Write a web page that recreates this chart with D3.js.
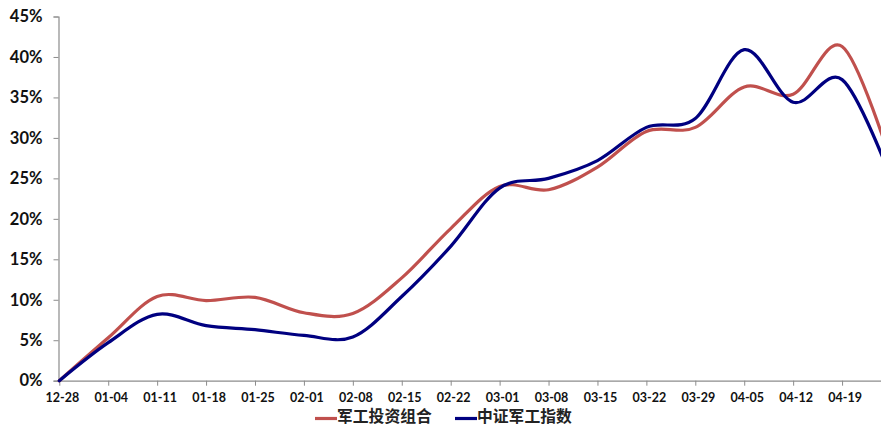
<!DOCTYPE html>
<html><head><meta charset="utf-8">
<script src="https://cdn.jsdelivr.net/npm/d3@7"></script>
<style>
html,body{margin:0;padding:0;background:#fff;}
svg{display:block;}
</style></head>
<body>
<script>
// ---- data ----
const tickLabels = ["12-28","01-04","01-11","01-18","01-25","02-01","02-08","02-15","02-22","03-01","03-08","03-15","03-22","03-29","04-05","04-12","04-19"];
const days = [0,7,14,21,28,35,42,49,56,63,70,77,84,91,98,105,112,119];
const portfolio = [0,5.3,10.4,9.9,10.3,8.4,8.3,12.7,18.8,24.0,23.6,26.4,30.8,31.3,36.3,35.4,41.3,27.0];
const indexSeries = [0,4.7,8.2,6.8,6.3,5.6,5.4,10.4,16.6,23.8,25.0,27.2,31.3,32.4,40.9,34.4,37.2,25.0];
const yTicks = [0,5,10,15,20,25,30,35,40,45];
const seriesNames = ["军工投资组合","中证军工指数"];
const seriesColors = ["#C0504D","#000080"];

const W = 881, H = 427;
const svg = d3.select("body").append("svg").attr("width", W).attr("height", H);

const x = d3.scaleLinear().domain([0,119]).range([59.3, 891]);
const y = d3.scaleLinear().domain([0,45]).range([380.7, 16.5]);

const axisColor = "#8c8c8c";
const numFont = "Lato, 'Liberation Sans', sans-serif";

// Y axis
const yAxis = d3.axisLeft(y).tickValues(yTicks).tickSize(5).tickPadding(11)
  .tickFormat(d => d + "%");
const gy = svg.append("g").attr("transform", "translate(58.5,0)").call(yAxis);
gy.select(".domain").attr("stroke", axisColor).attr("stroke-width",1.2);
gy.selectAll(".tick line").attr("stroke", axisColor);
gy.selectAll(".tick text").attr("font-family", numFont).attr("font-weight","bold")
  .attr("font-size", "16.5px").attr("fill","#111");

// X axis
const xAxis = d3.axisBottom(x).tickValues(days.slice(0, tickLabels.length))
  .tickFormat((d,i) => tickLabels[i]).tickSize(5).tickSizeOuter(0).tickPadding(7);
const gx = svg.append("g").attr("transform", "translate(0,380.7)").call(xAxis);
gx.select(".domain").attr("stroke", axisColor).attr("stroke-width",1.2);
gx.selectAll(".tick line").attr("stroke", axisColor);
gx.selectAll(".tick text").attr("font-family", numFont).attr("font-weight","bold")
  .attr("font-size", "12.5px").attr("fill","#111").attr("dx", "2.5");

// lines
const line = d3.line().x((d,i) => x(days[i])).y(d => y(d)).curve(d3.curveCardinal.tension(0));
[portfolio, indexSeries].forEach((s, k) => {
  svg.append("path").datum(s).attr("d", line).attr("fill","none")
    .attr("stroke", seriesColors[k]).attr("stroke-width", 3.2)
    .attr("stroke-linejoin","round").attr("stroke-linecap","round");
});

// legend
const legendX = [315, 455];
seriesNames.forEach((n, k) => {
  const g = svg.append("g").attr("transform", `translate(${legendX[k]},0)`);
  g.append("line").attr("x1",0).attr("x2",22).attr("y1",418.5).attr("y2",418.5)
    .attr("stroke", seriesColors[k]).attr("stroke-width",3.2);
  g.append("text").attr("x",22).attr("y",422.3)
    .attr("font-family","'Noto Sans CJK SC', sans-serif").attr("font-weight","bold")
    .attr("font-size","15.8px").attr("fill","#222").text(n);
});
</script>
</body></html>
